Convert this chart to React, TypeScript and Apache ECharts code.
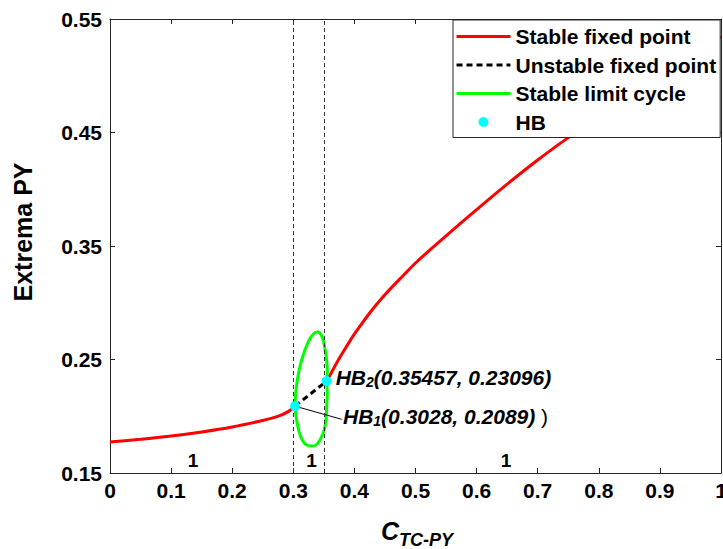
import React, { useEffect, useRef } from "react";
import * as echarts from "echarts";

const FONT = 'Arial, "Liberation Sans", Helvetica, sans-serif';

// ---- data ----
const yTicks = [0.15, 0.25, 0.35, 0.45, 0.55];

const stableBranchLow: [number, number][] = [
  [0, 0.1773], [0.05, 0.1797], [0.1, 0.1826], [0.15, 0.1862], [0.2, 0.1906],
  [0.25, 0.1963], [0.265, 0.1983], [0.28, 0.201], [0.29, 0.2036], [0.2965, 0.206],
  [0.3028, 0.2089],
];

const unstableBranch: [number, number][] = [
  [0.3028, 0.2089], [0.35457, 0.23096],
];

const stableBranchHigh: [number, number][] = [
  [0.35457, 0.23096], [0.36, 0.2362], [0.368, 0.244], [0.376, 0.2517], [0.387, 0.2614],
  [0.398, 0.2708], [0.41, 0.28], [0.425, 0.291], [0.442, 0.3022], [0.458, 0.3118],
  [0.48, 0.324], [0.5, 0.335], [0.525, 0.3472], [0.55, 0.359], [0.6, 0.382], [0.65, 0.4045],
  [0.7, 0.4258], [0.75, 0.4455], [0.8, 0.464], [0.85, 0.482], [0.9, 0.4995],
  [0.95, 0.517], [1.0, 0.5344],
];

const limitCycle: [number, number][] = [
  [0.3028, 0.2089], [0.3036, 0.218], [0.3066, 0.2319], [0.3137, 0.2496],
  [0.3246, 0.2657], [0.3328, 0.2725], [0.34, 0.2742], [0.346, 0.2712],
  [0.351, 0.262], [0.3545, 0.2496], [0.3556, 0.239], [0.35457, 0.23096],
  [0.3556, 0.221], [0.355, 0.2114], [0.3519, 0.1908], [0.3437, 0.1791],
  [0.3328, 0.1738], [0.3219, 0.1747], [0.3121, 0.182], [0.3055, 0.1967],
  [0.3028, 0.2089],
];

const hbPoints: [number, number][] = [
  [0.3028, 0.2089], [0.35457, 0.23096],
];
const hbLabels = ["{m|HB}{s|1}{m|(0.3028, 0.2089)}{p| )}", "{m|HB}{s|2}{m|(0.35457, 0.23096)}"];

const leaderLine: [number, number][] = [[0.3028, 0.2089], [0.3792, 0.1973]];

const regionLabelPoints: [number, number][] = [[0.136, 0.161], [0.33, 0.161], [0.648, 0.161]];
const regionLabelText = ["1", "1", "1"];

const bifurcationLinesX = [0.3028, 0.35457];

const legendNames = ["Stable fixed point", "Unstable fixed point", "Stable limit cycle", "HB"];

// ---- styles ----
const AXIS_COLOR = "#262626";
const axisLine = { show: true, onZero: false, lineStyle: { color: AXIS_COLOR, width: 1 } };
const axisTick = { show: true, inside: true, length: 5, lineStyle: { color: AXIS_COLOR, width: 1 } };
const tickFont = { fontSize: 21, fontWeight: "bold" as const, color: "#000", fontFamily: FONT };

const labelRich = {
  m: { fontSize: 21, fontWeight: "bold", fontStyle: "italic", fontFamily: FONT, color: "#000", lineHeight: 24 },
  s: { fontSize: 14, fontWeight: "bold", fontStyle: "italic", fontFamily: FONT, color: "#000", lineHeight: 14, verticalAlign: "bottom" },
  p: { fontSize: 21, fontWeight: "normal", fontStyle: "normal", fontFamily: FONT, color: "#000", lineHeight: 24 },
};

export default function App() {
  const ref = useRef<HTMLDivElement>(null);

  useEffect(() => {
    if (!ref.current) return;
    const chart = echarts.init(ref.current, null, { renderer: "svg" });

    const option: any = {
      animation: false,
      backgroundColor: "#fff",
      grid: { left: 110, top: 19, right: 2, bottom: 76, containLabel: false, outerBoundsMode: "none" },
      xAxis: [
        {
          type: "value", min: 0, max: 1, interval: 0.1, position: "bottom",
          axisLine, axisTick, splitLine: { show: false },
          axisLabel: { ...tickFont, margin: 7 },
        },
        {
          type: "value", min: 0, max: 1, interval: 0.1, position: "top",
          axisLine, axisTick, splitLine: { show: false }, axisLabel: { show: false },
        },
      ],
      yAxis: [
        {
          type: "value", min: 0.15, max: 0.55, position: "left",
          axisLine, splitLine: { show: false },
          axisTick: { ...axisTick, customValues: yTicks },
          axisLabel: { ...tickFont, margin: 8, customValues: yTicks },
        },
        {
          type: "value", min: 0.15, max: 0.55, position: "right",
          axisLine, splitLine: { show: false },
          axisTick: { ...axisTick, customValues: yTicks },
          axisLabel: { show: false, customValues: yTicks },
        },
      ],
      legend: {
        left: 453, top: 20, orient: "vertical",
        itemWidth: 54, itemHeight: 10, itemGap: 7.5,
        padding: [6, 4, 5, 2],
        backgroundColor: "#fff", borderColor: AXIS_COLOR, borderWidth: 1, borderRadius: 0,
        lineStyle: { width: 3 },
        textStyle: { fontSize: 21, fontWeight: "bold", fontFamily: FONT, color: "#000" },
        data: legendNames.map((n) =>
          n === "HB" ? { name: n, icon: "circle", itemStyle: { opacity: 1 } } : { name: n, itemStyle: { opacity: 0 } }
        ),
      },
      graphic: [
        {
          type: "text", x: 23, y: 232, rotation: Math.PI / 2,
          style: {
            text: "{t|Extrema PY}", align: "center", verticalAlign: "middle",
            rich: { t: { fontSize: 25, fontWeight: "bold", fontFamily: FONT, fill: "#000" } },
          },
        },
        {
          type: "text", x: 417, y: 531,
          style: {
            text: "{c|C}{s|TC-PY}", align: "center", verticalAlign: "middle",
            rich: {
              c: { fontSize: 25, fontWeight: "bold", fontStyle: "italic", fontFamily: FONT, fill: "#000", lineHeight: 36 },
              s: { fontSize: 18, fontWeight: "bold", fontStyle: "italic", fontFamily: FONT, fill: "#000", lineHeight: 18, verticalAlign: "bottom" },
            },
          },
        },
      ],
      series: [
        {
          name: "bifurcation lines", type: "line", data: [], silent: true,
          markLine: {
            silent: true, symbol: ["none", "none"], label: { show: false },
            lineStyle: { type: [4, 3], color: "#333", width: 1 },
            data: bifurcationLinesX.map((x) => ({ xAxis: x })),
          },
        },
        {
          name: "Stable fixed point", type: "line", data: stableBranchLow, showSymbol: false, symbol: "none",
          smooth: 0.3,
          lineStyle: { color: "#ff0000", width: 3 }, itemStyle: { color: "#ff0000" }, z: 2,
        },
        {
          name: "Stable fixed point", type: "line", data: stableBranchHigh, showSymbol: false, symbol: "none",
          smooth: 0.3,
          lineStyle: { color: "#ff0000", width: 3 }, itemStyle: { color: "#ff0000" }, z: 2,
        },
        {
          name: "Unstable fixed point", type: "line", data: unstableBranch, showSymbol: false, symbol: "none",
          lineStyle: { color: "#000", width: 3, type: [6, 4] }, itemStyle: { color: "#000" }, z: 2,
        },
        {
          name: "Stable limit cycle", type: "line", data: limitCycle, showSymbol: false, symbol: "none",
          smooth: 0.4,
          lineStyle: { color: "#00ff00", width: 3 }, itemStyle: { color: "#00ff00" }, z: 3,
        },
        {
          name: "leader", type: "line", data: leaderLine, showSymbol: false, symbol: "none", silent: true,
          lineStyle: { color: "#000", width: 1 }, z: 3,
        },
        {
          name: "HB", type: "scatter", symbol: "circle", symbolSize: 10, z: 5,
          itemStyle: { color: "#00ffff", opacity: 1 },
          data: hbPoints.map((p, i) => ({
            value: p,
            label: {
              show: true, position: "right", color: "#000", opacity: 1, textBorderWidth: 0,
              distance: i === 0 ? 43 : 4,
              offset: i === 0 ? [0, 10] : [0, -4],
              formatter: hbLabels[i],
              rich: labelRich,
            },
          })),
        },
        {
          name: "regions", type: "scatter", symbol: "circle", symbolSize: 0, silent: true, z: 4,
          itemStyle: { color: "#000", opacity: 1 },
          data: regionLabelPoints.map((p, i) => ({
            value: p,
            label: {
              show: true, position: "inside", formatter: regionLabelText[i], opacity: 1,
              fontSize: 19, fontWeight: "bold", fontFamily: FONT, color: "#000", textBorderWidth: 0,
            },
          })),
        },
      ],
    };

    chart.setOption(option);
    return () => chart.dispose();
  }, []);

  return (
    <div
      ref={ref}
      style={{ position: "absolute", left: 0, top: 0, width: 723, height: 549, background: "#fff" }}
    />
  );
}
